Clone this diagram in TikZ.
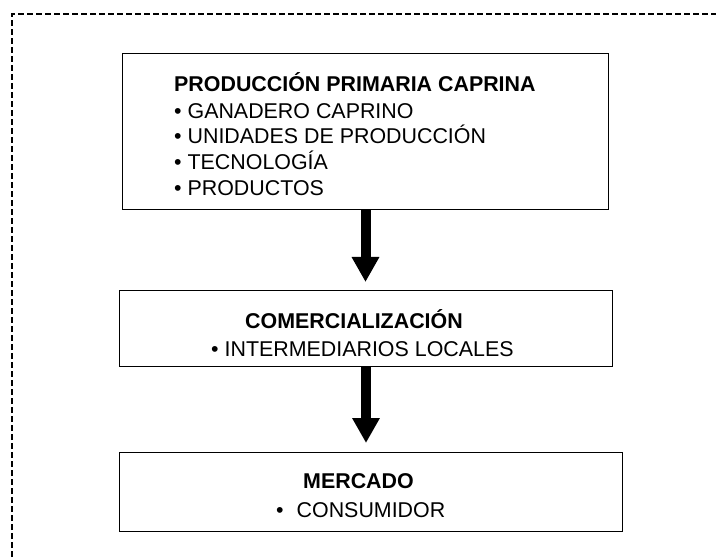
\documentclass[tikz,border=0pt]{standalone}
\usepackage{fontspec}
\setmainfont{Liberation Sans}
\usetikzlibrary{arrows.meta}

\begin{document}
\begin{tikzpicture}[x = 1pt, y = -1pt, font = \fontsize{21.4}{26}\selectfont,
  box/.style = { draw, line width = 1pt, rectangle, inner sep = 0pt, anchor = north west },
  title/.style = { font = \fontsize{21.4}{26}\selectfont\bfseries, inner sep = 0pt, anchor = base west },
  item/.style = { inner sep = 0pt, anchor = base west },
  flow/.style = { line width = 10pt, -{Triangle[width = 26pt, length = 25pt]} },
  frame/.style = { line width = 1.5pt, dash pattern = on 6pt off 3pt }]
  \useasboundingbox (0, 0) rectangle (716, 559);
  \clip (0, 0) rectangle (716, 559);
  \draw [frame] (12, 575) -- (12, 14) -- (735, 14);

  \node [box, minimum width = 486pt, minimum height = 156pt] (produccion) at (122, 53) {};
  \node [box, minimum width = 493pt, minimum height = 76pt] (comercio) at (119, 290) {};
  \node [box, minimum width = 503pt, minimum height = 79pt] (mercado) at (119, 452) {};

  % produccion primaria
  \node [title] (prodtitle) at (174, 92) {PRODUCCIÓN PRIMARIA CAPRINA};
  \node [item] (ganadero) at (174, 119) {• GANADERO CAPRINO};
  \node [item] (unidades) at (174, 144) {• UNIDADES DE PRODUCCIÓN};
  \node [item] (tecnologia) at (174, 170) {• TECNOLOGÍA};
  \node [item] (productos) at (174, 196) {• PRODUCTOS};

  % comercializacion
  \node [title] (comtitle) at (245, 328) {COMERCIALIZACIÓN};
  \node [item] (intermediarios) at (211, 356) {• INTERMEDIARIOS LOCALES};

  % mercado
  \node [title] (mertitle) at (303, 488) {MERCADO};
  \node [item] (consumidor) at (276, 517) {•\hspace{13pt}CONSUMIDOR};

  \draw [flow, shorten > = 8pt] (produccion.south) -- (comercio.north -| produccion.south);
  \draw [flow, shorten > = 9pt] (comercio.south) -- (comercio.south |- mercado.north);
\end{tikzpicture}
\end{document}
